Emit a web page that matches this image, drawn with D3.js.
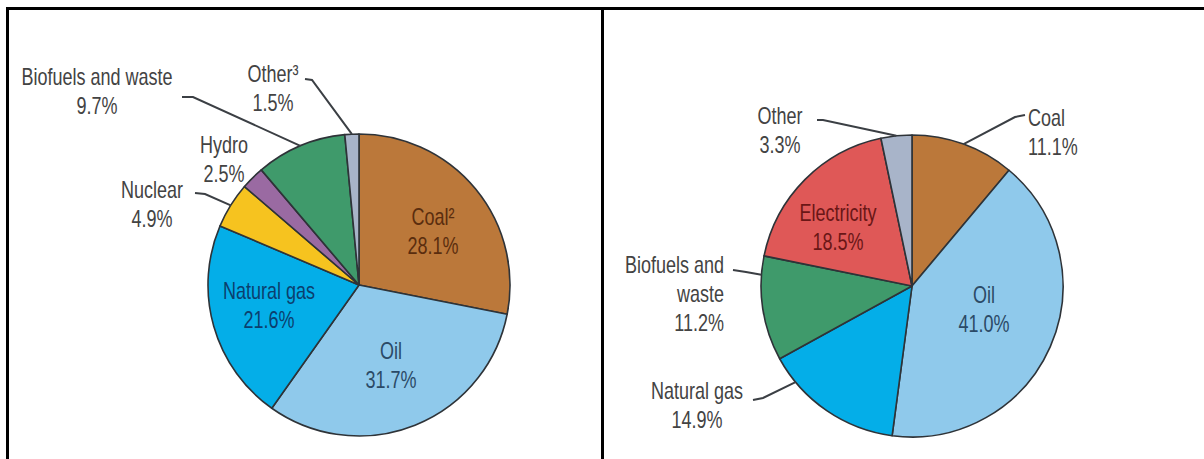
<!DOCTYPE html>
<html>
<head>
<meta charset="utf-8">
<script src="https://cdn.jsdelivr.net/npm/d3@7"></script>
<style>
  html, body { margin: 0; padding: 0; background: #fff; }
  text { font-family: "Liberation Sans Narrow", "Arial Narrow", "Liberation Sans", sans-serif; }
</style>
</head>
<body>
<svg id="chart" width="1204" height="459"></svg>
<script>
// left pie: total primary energy supply
var leftLabels = ["Coal²", "Oil", "Natural gas", "Nuclear", "Hydro", "Biofuels and waste", "Other³"];
var leftValues = [28.1, 31.7, 21.6, 4.9, 2.5, 9.7, 1.5];
// right pie: total final consumption
var rightLabels = ["Coal", "Oil", "Natural gas", "Biofuels and waste", "Electricity", "Other"];
var rightValues = [11.1, 41.0, 14.9, 11.2, 18.5, 3.3];

var colors = {
    "Coal": "#bb783a",
    "Oil": "#8fc9eb",
    "Natural gas": "#04aee8",
    "Nuclear": "#f6c31f",
    "Hydro": "#9a6aa2",
    "Biofuels and waste": "#3f9a6b",
    "Electricity": "#df5857",
    "Other": "#a8b4c9"
};
var inkInside = {
    "Coal": "#5a2d0e",
    "Oil": "#2b4a66",
    "Natural gas": "#0b3f6e",
    "Electricity": "#6a1616"
};

var svg = d3.select("#chart");
var R = 151;
var lineGap = 29;
var squeeze = 0.75; // no narrow font installed, so condense the regular one

// frame lines
svg.append("line").attr("x1", 6).attr("x2", 1204).attr("y1", 8.5).attr("y2", 8.5)
    .attr("stroke", "#000").attr("stroke-width", 3);
svg.append("line").attr("x1", 7.5).attr("x2", 7.5).attr("y1", 7).attr("y2", 459)
    .attr("stroke", "#000").attr("stroke-width", 3);
svg.append("line").attr("x1", 602.5).attr("x2", 602.5).attr("y1", 7).attr("y2", 459)
    .attr("stroke", "#000").attr("stroke-width", 3);

function baseName(s) {
    return s.replace(/[²³]/g, "");
}

// label layout: text offsets from pie centre, optional leader start and where on the slice the leader lands
var leftLayout = {
    "Coal²": {dx: 74, dy: -69, anchor: "middle", inside: true},
    "Oil": {dx: 32, dy: 65, anchor: "middle", inside: true},
    "Natural gas": {dx: -90, dy: 5, anchor: "middle", inside: true},
    "Nuclear": {dx: -207, dy: -96, anchor: "middle", lead: [[-164, -92], [-154, -91]]},
    "Hydro": {dx: -135, dy: -141, anchor: "middle"},
    "Biofuels and waste": {dx: -262, dy: -209, anchor: "middle", lines: ["Biofuels and waste"],
        lead: [[-177, -188], [-166, -188]]},
    "Other³": {dx: -86, dy: -212, anchor: "middle", lead: [[-54, -206], [-47, -205]]}
};
var rightLayout = {
    "Coal": {dx: 116, dy: -169, anchor: "start", lead: [[113, -171], [103, -169]]},
    "Oil": {dx: 72, dy: 8, anchor: "middle", inside: true},
    "Natural gas": {dx: -215, dy: 104, anchor: "middle", lead: [[-159, 114], [-149, 112]], at: 0.8},
    "Biofuels and waste": {dx: -188, dy: -22, anchor: "end", lines: ["Biofuels and", "waste"],
        lead: [[-179, -16], [-166, -14]], at: 0.82},
    "Electricity": {dx: -74, dy: -74, anchor: "middle", inside: true},
    "Other": {dx: -132, dy: -171, anchor: "middle", lead: [[-95, -166], [-89, -166]]}
};

function drawPie(cx, cy, labels, values, layout) {
    var pie = d3.pie().sort(null).value(function (d) { return d.v; });
    var arc = d3.arc().innerRadius(0).outerRadius(R);
    var data = labels.map(function (l, i) { return {name: l, v: values[i]}; });
    var arcs = pie(data);

    var g = svg.append("g").attr("transform", "translate(" + cx + "," + cy + ")");

    g.selectAll("path.slice")
        .data(arcs)
        .enter()
        .append("path")
        .attr("class", "slice")
        .attr("d", arc)
        .attr("fill", function (d) { return colors[baseName(d.data.name)]; })
        .attr("stroke", "#2e3338")
        .attr("stroke-width", 1.6)
        .attr("stroke-linejoin", "round");

    arcs.forEach(function (d) {
        var lay = layout[d.data.name];
        var key = baseName(d.data.name);
        // leader line to the slice edge
        if (lay.lead) {
            var f = lay.at === undefined ? 0.5 : lay.at;
            var a = d.startAngle + (d.endAngle - d.startAngle) * f;
            var pts = lay.lead.concat([[R * Math.sin(a), -R * Math.cos(a)]]);
            g.append("path")
                .attr("d", d3.line()(pts))
                .attr("fill", "none")
                .attr("stroke", "#3b3f44")
                .attr("stroke-width", 2);
        }
        var lines = (lay.lines || [d.data.name]).concat([d.data.v.toFixed(1) + "%"]);
        var t = g.append("g")
            .attr("transform", "translate(" + lay.dx + "," + (lay.dy + 9) + ") scale(" + squeeze + ",1)")
            .append("text")
            .attr("text-anchor", lay.anchor)
            .style("font-size", "24px")
            .attr("fill", lay.inside ? inkInside[key] : "#434343");
        lines.forEach(function (s, i) {
            t.append("tspan")
                .attr("x", 0)
                .attr("y", i * lineGap)
                .text(s);
        });
    });
}

drawPie(359, 285, leftLabels, leftValues, leftLayout);
drawPie(912, 286, rightLabels, rightValues, rightLayout);
</script>
</body>
</html>
